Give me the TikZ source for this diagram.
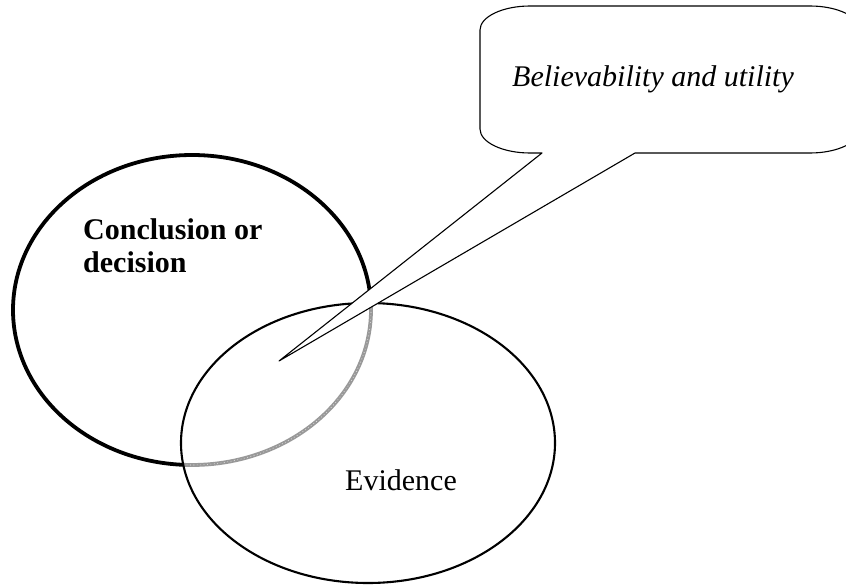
\documentclass[tikz,border=0pt]{standalone}
\usepackage{fontspec}
\setmainfont{Liberation Serif}

\begin{document}
\begin{tikzpicture}[x=1pt, y=-1pt, line join=round,
    bigring/.style={draw=black, line width=3.8pt},
    shadearc/.style={draw=gray!80, line width=3.8pt,
      postaction={draw=white!85!gray, line width=0.6pt, dash pattern=on 0.8pt off 2.6pt}},
    evring/.style={draw=black, line width=2.1pt},
    callout/.style={draw=black, fill=white, line width=1.1pt},
    label/.style={anchor=base west, inner sep=0pt, font=\fontsize{30}{33}\selectfont}
]
\useasboundingbox (0,0) rectangle (846,586);

% --- Mittelpunkte ---
\coordinate (cc) at (192,310); % Conclusion
\coordinate (ec) at (368,443); % Evidence

% --- grosse Ellipse (dick, schwarz) ---
\draw[bigring] (cc) ++(2.5:179pt and 155pt)
  arc[start angle=2.5, end angle=267.2, x radius=179pt, y radius=155pt];

% --- Teil innerhalb von Evidence (grau) ---
\draw[shadearc] (cc) ++(267.2:179pt and 155pt)
  arc[start angle=267.2, end angle=362.5, x radius=179pt, y radius=155pt];

% --- Evidence Ellipse ---
\draw[evring] (ec) ellipse [x radius=187pt, y radius=140pt];

% --- Sprechblase ---
\coordinate (tip) at (279,361);
\draw[callout] (542,153) -- (tip) -- (635,153) -- (810,153)
  .. controls (837.6,153) and (860,142.2) .. (860,129) -- (860,30)
  .. controls (860,16.8) and (837.6,6) .. (810,6) -- (530,6)
  .. controls (502.4,6) and (480,16.8) .. (480,30) -- (480,129)
  .. controls (480,142.2) and (502.4,153) .. (530,153) -- cycle;

% --- Texte ---
\node[label] (bel) at (512,86) {\itshape Believability and utility};
\node[label] (con1) at (83,239) {\bfseries Conclusion or};
\node[label] (con2) at (83,272) {\bfseries decision};
\node[label] (evi) at (345,490) {Evidence};

\end{tikzpicture}
\end{document}
